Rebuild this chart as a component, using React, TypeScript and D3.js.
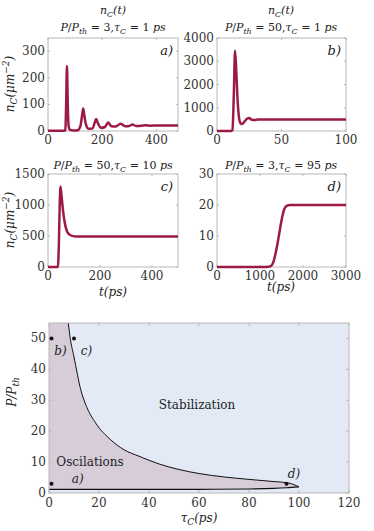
import React from 'react';
import * as d3 from 'd3';

// panel a) P/Pth = 3, tau = 1 ps
const tA = [0, 60, 64, 67, 70, 73, 76, 80, 95, 110, 120, 126, 130, 134, 140, 150, 165, 172, 178, 184, 195, 210, 222, 234, 250, 268, 285, 300, 312, 325, 345, 360, 380, 400, 450, 480];
const nA = [1, 1, 3, 100, 245, 100, 20, 5, 2, 3, 20, 60, 85, 60, 25, 8, 10, 30, 45, 30, 12, 15, 32, 18, 17, 27, 18, 19, 24, 19, 20, 22, 20, 21, 21, 21];
// panel b) P/Pth = 50, tau = 1 ps
const tB = [0, 11, 12, 13, 14, 15, 16, 17, 18, 19, 21, 23, 25, 27, 29, 32, 40, 100];
const nB = [0, 0, 50, 1500, 3450, 2500, 1300, 600, 350, 300, 380, 520, 560, 480, 470, 500, 500, 500];
// panel c) P/Pth = 50, tau = 10 ps
const tC = [0, 38, 42, 45, 48, 52, 58, 65, 75, 90, 110, 200, 500];
const nC = [0, 0, 400, 1000, 1300, 1150, 900, 700, 560, 505, 490, 490, 490];
// panel d) P/Pth = 3, tau = 95 ps
const tD = [0, 1150, 1250, 1320, 1400, 1450, 1500, 1560, 1620, 1700, 3000];
const nD = [0, 0, 0.3, 2, 7, 11, 15, 18.5, 19.7, 20, 20];

// phase diagram boundaries
const upperTau = [7.7, 8.5, 10, 12.7, 15, 18.7, 24.7, 30, 36, 44, 52, 60, 70, 80, 90, 96, 100];
const upperP = [55, 50, 44, 33.4, 28, 22.6, 17.2, 14, 11.9, 9.4, 7.6, 6.3, 5.2, 4.4, 3.7, 3.2, 2.0];
const lowerTau = [0, 20, 60, 80, 90, 95, 100];
const lowerP = [1.2, 1.2, 1.2, 1.3, 1.5, 1.7, 2.0];
const pointTau = [1, 10, 1, 95];
const pointP = [50, 50, 3, 3];
const pointLabels = ['b)', 'c)', 'a)', 'd)'];
const labelTau = [4.6, 15, 11.5, 98];
const labelP = [44.5, 44.5, 3.2, 5];

const LINE = '#9b1b44';
const GRID = '#b8b8b8';
const SERIF = "'DejaVu Serif', serif";
const MATH = "'DejaVu Serif', serif";

type PanelProps = {
  x0: number; x1: number; y0: number; y1: number;
  xDom: [number, number]; yDom: [number, number];
  xTicks: number[]; yTicks: number[];
  ts: number[]; ns: number[]; tag: string;
};

function Panel({ x0, x1, y0, y1, xDom, yDom, xTicks, yTicks, ts, ns, tag }: PanelProps) {
  const x = d3.scaleLinear().domain(xDom).range([x0, x1]);
  const y = d3.scaleLinear().domain(yDom).range([y1, y0]);
  const line = d3.line<number>().x((_, i) => x(ts[i])).y((d) => y(d)).curve(d3.curveMonotoneX);
  return (
    <g>
      <rect x={x0} y={y0} width={x1 - x0} height={y1 - y0} fill="#fff" stroke={GRID} strokeWidth={1} />
      {xTicks.map((t) => (
        <g key={'x' + t}>
          <line x1={x(t)} x2={x(t)} y1={y1} y2={y1 - 2} stroke={GRID} />
          <line x1={x(t)} x2={x(t)} y1={y0} y2={y0 + 2} stroke={GRID} />
          <text x={x(t)} y={y1 + 13} textAnchor="middle" fontFamily={SERIF} fontSize={12} fill="#333">{t}</text>
        </g>
      ))}
      {yTicks.map((t) => (
        <g key={'y' + t}>
          <line x1={x0} x2={x0 + 2} y1={y(t)} y2={y(t)} stroke={GRID} />
          <line x1={x1} x2={x1 - 2} y1={y(t)} y2={y(t)} stroke={GRID} />
          <text x={x0 - 3} y={y(t) + 4} textAnchor="end" fontFamily={SERIF} fontSize={12} fill="#333">{t}</text>
        </g>
      ))}
      <path d={line(ns) || ''} fill="none" stroke={LINE} strokeWidth={2.5} />
      <text x={x1 - 5} y={y0 + 17} textAnchor="end" fontFamily={MATH} fontStyle="italic" fontSize={13} fill="#222">{tag}</text>
    </g>
  );
}

function Title({ x, y, p, tau }: { x: number; y: number; p: string; tau: string }) {
  return (
    <text x={x} y={y} textAnchor="middle" fontFamily={MATH} fontSize={11} fill="#222">
      <tspan fontStyle="italic">P</tspan><tspan>/</tspan><tspan fontStyle="italic">P</tspan>
      <tspan dy={3} fontSize={8} fontStyle="italic">th</tspan>
      <tspan dy={-3}> = {p},</tspan>
      <tspan fontStyle="italic">τ</tspan>
      <tspan dy={3} fontSize={8} fontStyle="italic">C</tspan>
      <tspan dy={-3}> = {tau} </tspan>
      <tspan fontStyle="italic">ps</tspan>
    </text>
  );
}

function NcTitle({ x, y }: { x: number; y: number }) {
  return (
    <text x={x} y={y} textAnchor="middle" fontFamily={MATH} fontStyle="italic" fontSize={11} fill="#222">
      n<tspan dy={3} fontSize={8}>C</tspan><tspan dy={-3}>(t)</tspan>
    </text>
  );
}

function NcLabel({ x, y }: { x: number; y: number }) {
  return (
    <text transform={`translate(${x},${y}) rotate(-90)`} textAnchor="middle" fontFamily={MATH} fontStyle="italic" fontSize={12} fill="#222">
      n<tspan dy={3} fontSize={9}>C</tspan><tspan dy={-3}>(μm</tspan><tspan dy={-5} fontSize={9}>−2</tspan><tspan dy={5}>)</tspan>
    </text>
  );
}

function TLabel({ x, y }: { x: number; y: number }) {
  return (
    <text x={x} y={y} textAnchor="middle" fontFamily={MATH} fontStyle="italic" fontSize={12} fill="#222">t(ps)</text>
  );
}

function Phase() {
  const x0 = 49, x1 = 349, y0 = 323, y1 = 493;
  const x = d3.scaleLinear().domain([0, 120]).range([x0, x1]);
  const y = d3.scaleLinear().domain([0, 55]).range([y1, y0]);
  const upper = upperTau.map((t, i) => [x(t), y(upperP[i])] as [number, number]);
  const lower = lowerTau.map((t, i) => [x(t), y(lowerP[i])] as [number, number]);
  const smooth = d3.line().curve(d3.curveMonotoneX);
  const upperPath = smooth(upper) || '';
  const lowerPath = smooth(lower) || '';
  const back = lower.slice().reverse().map((p) => `L${p[0]},${p[1]}`).join('');
  const areaPath = `M${x(0)},${y(55)}L${upper[0][0]},${upper[0][1]}` + upperPath.replace(/^M[^CLZ]*/, '') + back + 'Z';
  const xt = d3.range(0, 121, 20);
  const yt = d3.range(0, 51, 10);
  return (
    <g>
      <rect x={x0} y={y0} width={x1 - x0} height={y1 - y0} fill="#e3eaf6" />
      <path d={areaPath} fill="#d6cdd9" />
      <path d={upperPath} fill="none" stroke="#111" strokeWidth={1} />
      <path d={lowerPath} fill="none" stroke="#111" strokeWidth={1.2} />
      <rect x={x0} y={y0} width={x1 - x0} height={y1 - y0} fill="none" stroke={GRID} />
      {xt.map((t) => (
        <g key={'x' + t}>
          <line x1={x(t)} x2={x(t)} y1={y1} y2={y1 - 3} stroke={GRID} />
          <line x1={x(t)} x2={x(t)} y1={y0} y2={y0 + 3} stroke={GRID} />
          <text x={x(t)} y={y1 + 14} textAnchor="middle" fontFamily={SERIF} fontSize={12} fill="#333">{t}</text>
        </g>
      ))}
      {yt.map((t) => (
        <g key={'y' + t}>
          <line x1={x0} x2={x0 + 3} y1={y(t)} y2={y(t)} stroke={GRID} />
          <line x1={x1} x2={x1 - 3} y1={y(t)} y2={y(t)} stroke={GRID} />
          <text x={x0 - 3} y={y(t) + 4} textAnchor="end" fontFamily={SERIF} fontSize={12} fill="#333">{t}</text>
        </g>
      ))}
      {pointTau.map((t, i) => (
        <circle key={'p' + i} cx={x(t)} cy={y(pointP[i])} r={2} fill="#111" />
      ))}
      {pointLabels.map((l, i) => (
        <text key={'l' + i} x={x(labelTau[i])} y={y(labelP[i])} textAnchor="middle" fontFamily={MATH} fontStyle="italic" fontSize={12} fill="#222">{l}</text>
      ))}
      <text x={197} y={409} textAnchor="middle" fontFamily={SERIF} fontSize={12} fill="#222">Stabilization</text>
      <text x={90} y={466} textAnchor="middle" fontFamily={SERIF} fontSize={12} fill="#222">Oscilations</text>
      <text x={199} y={522} textAnchor="middle" fontFamily={MATH} fontStyle="italic" fontSize={12} fill="#222">
        τ<tspan dy={3} fontSize={9}>C</tspan><tspan dy={-3}>(ps)</tspan>
      </text>
      <text transform="translate(16,392) rotate(-90)" textAnchor="middle" fontFamily={MATH} fontStyle="italic" fontSize={12} fill="#222">
        P/P<tspan dy={3} fontSize={9}>th</tspan>
      </text>
    </g>
  );
}

export default function App() {
  return (
    <svg width={374} height={531} style={{ position: 'absolute', left: 0, top: 0, background: '#fff' }}>
      <NcTitle x={113} y={14} />
      <Title x={113} y={31} p="3" tau="1" />
      <NcTitle x={281} y={14} />
      <Title x={281} y={31} p="50" tau="1" />
      <Title x={113} y={169} p="50" tau="10" />
      <Title x={281} y={169} p="3" tau="95" />
      <Panel x0={48} x1={178} y0={38} y1={131} xDom={[0, 480]} yDom={[0, 350]} xTicks={[0, 200, 400]} yTicks={[0, 100, 200, 300]} ts={tA} ns={nA} tag="a)" />
      <Panel x0={217} x1={346} y0={38} y1={131} xDom={[0, 100]} yDom={[0, 4000]} xTicks={[0, 50, 100]} yTicks={[0, 1000, 2000, 3000, 4000]} ts={tB} ns={nB} tag="b)" />
      <Panel x0={48} x1={178} y0={174} y1={267} xDom={[0, 500]} yDom={[0, 1500]} xTicks={[0, 200, 400]} yTicks={[0, 500, 1000, 1500]} ts={tC} ns={nC} tag="c)" />
      <Panel x0={217} x1={346} y0={174} y1={267} xDom={[0, 3000]} yDom={[0, 30]} xTicks={[0, 1000, 2000, 3000]} yTicks={[0, 10, 20, 30]} ts={tD} ns={nD} tag="d)" />
      <NcLabel x={14} y={84} />
      <NcLabel x={14} y={220} />
      <TLabel x={113} y={296} />
      <TLabel x={281} y={291} />
      <Phase />
    </svg>
  );
}
